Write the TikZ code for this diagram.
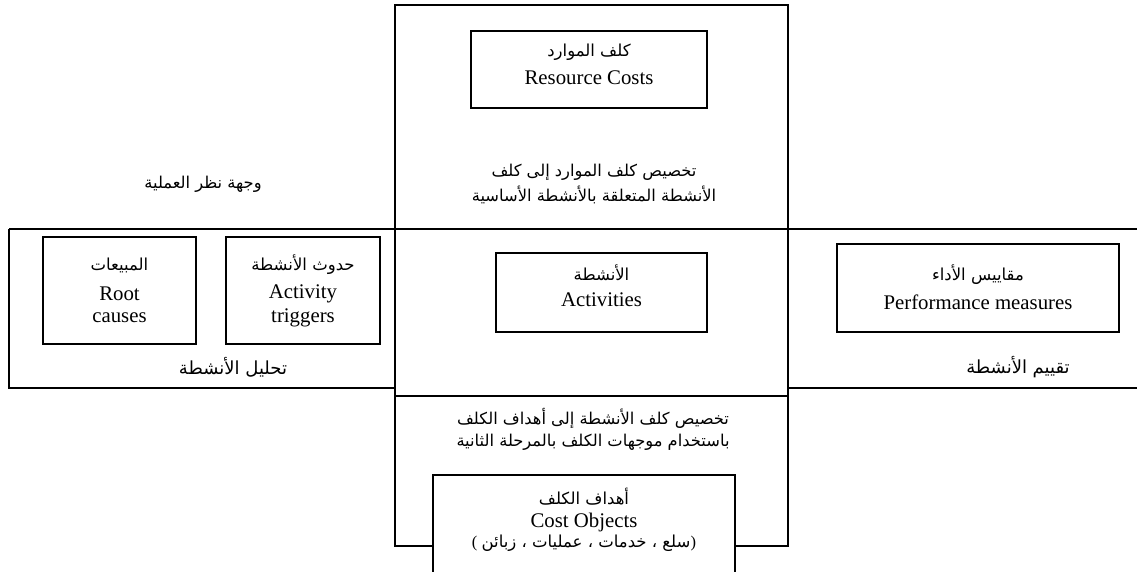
\documentclass[tikz,border=0pt]{standalone}
\usepackage{fontspec}
\setmainfont{Liberation Serif}
\newfontfamily\arabicfont[Script=Arabic]{DejaVu Sans}
\TeXXeTstate=1
% right-to-left Arabic run
\newcommand{\artext}[1]{{\arabicfont\beginR #1\endR}}

\begin{document}
\begin{tikzpicture}[x=1pt,y=-1pt,
  frame/.style={line width=1.8pt, draw=black},
  boxed/.style={draw=black, line width=1.6pt, rectangle, inner sep=0pt},
  entxt/.style={inner sep=0pt, font=\fontsize{20.8}{22}\selectfont},
  artxt/.style={inner sep=0pt, font=\fontsize{16.5}{18}\selectfont},
  alloctxt/.style={inner sep=0pt, font=\fontsize{16.3}{18}\selectfont},
  paneltxt/.style={inner sep=0pt, font=\fontsize{18}{20}\selectfont}
]
\fill[white] (0,0) rectangle (1137,571);
\useasboundingbox (0,0) rectangle (1137,571);
\clip (0,0) rectangle (1137,571);

% ---- frame of the three bands and the central column ----
\draw[frame] (9,229) -- (1140,229);
\draw[frame] (9,229) -- (9,388) -- (395,388);
\draw[frame] (788,388) -- (1140,388);
\draw[frame] (395,396) -- (788,396);
\draw[frame] (433,546) -- (395,546) -- (395,5) -- (788,5) -- (788,546) -- (735,546);

% ---- resource costs ----
\node[boxed, minimum width=236pt, minimum height=77pt] (rc) at (589,69.5) {};
\node[artxt] (rcAr) at (589,52) {\artext{كلف الموارد}};
\node[entxt] (rcEn) at (589,78) {Resource Costs};

% ---- first stage allocation ----
\node[alloctxt] (allocA1) at (594,172) {\artext{تخصيص كلف الموارد إلى كلف}};
\node[alloctxt] (allocA2) at (594,195) {\artext{الأنشطة المتعلقة بالأنشطة الأساسية}};

% ---- process view ----
\node[alloctxt] (procView) at (203,184) {\artext{وجهة نظر العملية}};

% ---- activity analysis panel ----
\node[boxed, minimum width=153pt, minimum height=107pt] (rootBox) at (119.5,290.5) {};
\node[artxt] (rootAr) at (119.5,265) {\artext{المبيعات}};
\node[entxt] (rootEn1) at (119.5,294) {Root};
\node[entxt] (rootEn2) at (119.5,318) {causes};

\node[boxed, minimum width=154pt, minimum height=107pt] (trigBox) at (303,290.5) {};
\node[artxt] (trigAr) at (303,265) {\artext{حدوث الأنشطة}};
\node[entxt] (trigEn1) at (303,294) {Activity};
\node[entxt] (trigEn2) at (303,318) {triggers};

\node[paneltxt] (analysis) at (233,367) {\artext{تحليل الأنشطة}};

% ---- activities ----
\node[boxed, minimum width=211pt, minimum height=79pt] (actBox) at (601.5,292.5) {};
\node[artxt] (actAr) at (601.5,273) {\artext{الأنشطة}};
\node[entxt] (actEn) at (601.5,300) {Activities};

% ---- activity evaluation panel ----
\node[boxed, minimum width=282pt, minimum height=88pt] (perfBox) at (978,288) {};
\node[artxt] (perfAr) at (978,275) {\artext{مقاييس الأداء}};
\node[entxt] (perfEn) at (978,302) {Performance measures};

\node[paneltxt] (evaluation) at (1018,367) {\artext{تقييم الأنشطة}};

% ---- second stage allocation ----
\node[alloctxt] (allocB1) at (593,418) {\artext{تخصيص كلف الأنشطة إلى أهداف الكلف}};
\node[alloctxt] (allocB2) at (593,442) {\artext{باستخدام موجهات الكلف بالمرحلة الثانية}};

% ---- cost objects ----
\node[boxed, minimum width=302pt, minimum height=140pt] (coBox) at (584,545) {};
\node[artxt] (coAr) at (584,497) {\artext{أهداف الكلف}};
\node[entxt] (coEn) at (584,522) {Cost Objects};
\node[artxt] (coList) at (584,543) {(~\artext{سلع ، خدمات ، عمليات ، زبائن})};
\end{tikzpicture}
\end{document}
